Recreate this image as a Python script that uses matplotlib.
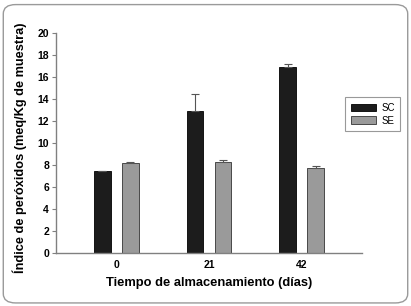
import numpy as np
import matplotlib.pyplot as plt
from matplotlib.patches import FancyBboxPatch

# Datos
dias = ['0', '21', '42']
sc_valores = [7.5, 12.9, 16.9]
sc_error = [0.0, 1.6, 0.3]
se_valores = [8.2, 8.3, 7.7]
se_error = [0.05, 0.2, 0.2]

plt.rcParams['font.family'] = ['Liberation Sans', 'DejaVu Sans']

fig = plt.figure(figsize=(4.11, 3.06), dpi=100)
ax = fig.add_axes([56 / 411, 1 - 253 / 306, (362 - 56) / 411, (253 - 33) / 306])

# Marco redondeado
borde = FancyBboxPatch((0.008, 0.01), 0.984, 0.975, boxstyle='round,pad=0,rounding_size=0.03',
                       transform=fig.transFigure, fc='none', ec='#9a9a9a', lw=1.0)
fig.patches.append(borde)

x = np.arange(len(dias))
ancho = 0.18
desp = 0.15
ax.bar(x - desp, sc_valores, ancho, color='#1c1c1c', edgecolor='#000000', lw=0.6,
       yerr=[np.zeros(3), sc_error], error_kw=dict(ecolor='#555555', elinewidth=0.8, capsize=3, capthick=0.8),
       label='SC')
ax.bar(x + desp, se_valores, ancho, color='#9a9a9a', edgecolor='#333333', lw=0.6,
       yerr=[np.zeros(3), se_error], error_kw=dict(ecolor='#555555', elinewidth=0.8, capsize=3, capthick=0.8),
       label='SE')

ax.set_xlim(-0.65, 2.65)
ax.set_ylim(0, 20)
ax.set_yticks(range(0, 21, 2))
ax.set_xticks(x)
ax.set_xticklabels(dias)

for s in ['top', 'right']:
    ax.spines[s].set_visible(False)
for s in ['left', 'bottom']:
    ax.spines[s].set_color('#808080')
    ax.spines[s].set_linewidth(1.0)

ax.tick_params(axis='y', length=3, width=0.8, color='#808080', labelsize=7.5, pad=2)
ax.tick_params(axis='x', length=0, labelsize=7.5, pad=5)
for lbl in ax.get_xticklabels() + ax.get_yticklabels():
    lbl.set_fontweight('bold')

ax.set_xlabel('Tiempo de almacenamiento (días)', fontsize=9.3, fontweight='bold')
ax.xaxis.set_label_coords(0.5, -0.136)
ax.set_ylabel('Índice de peróxidos (meq/Kg de muestra)', fontsize=9.2, fontweight='bold')
ax.yaxis.set_label_coords(-0.118, 0.48)
ax.yaxis.label.set_verticalalignment('center')
ax.xaxis.label.set_verticalalignment('center')

leg = ax.legend(loc='upper left', bbox_to_anchor=(0.945, 0.71), fontsize=7, frameon=True, fancybox=False,
                handlelength=2.6, handleheight=0.8, borderpad=0.6, labelspacing=0.3, handletextpad=0.5,
                borderaxespad=0)
leg.get_frame().set_edgecolor('#808080')
leg.get_frame().set_linewidth(0.8)

fig.savefig('out.png', dpi=100)
